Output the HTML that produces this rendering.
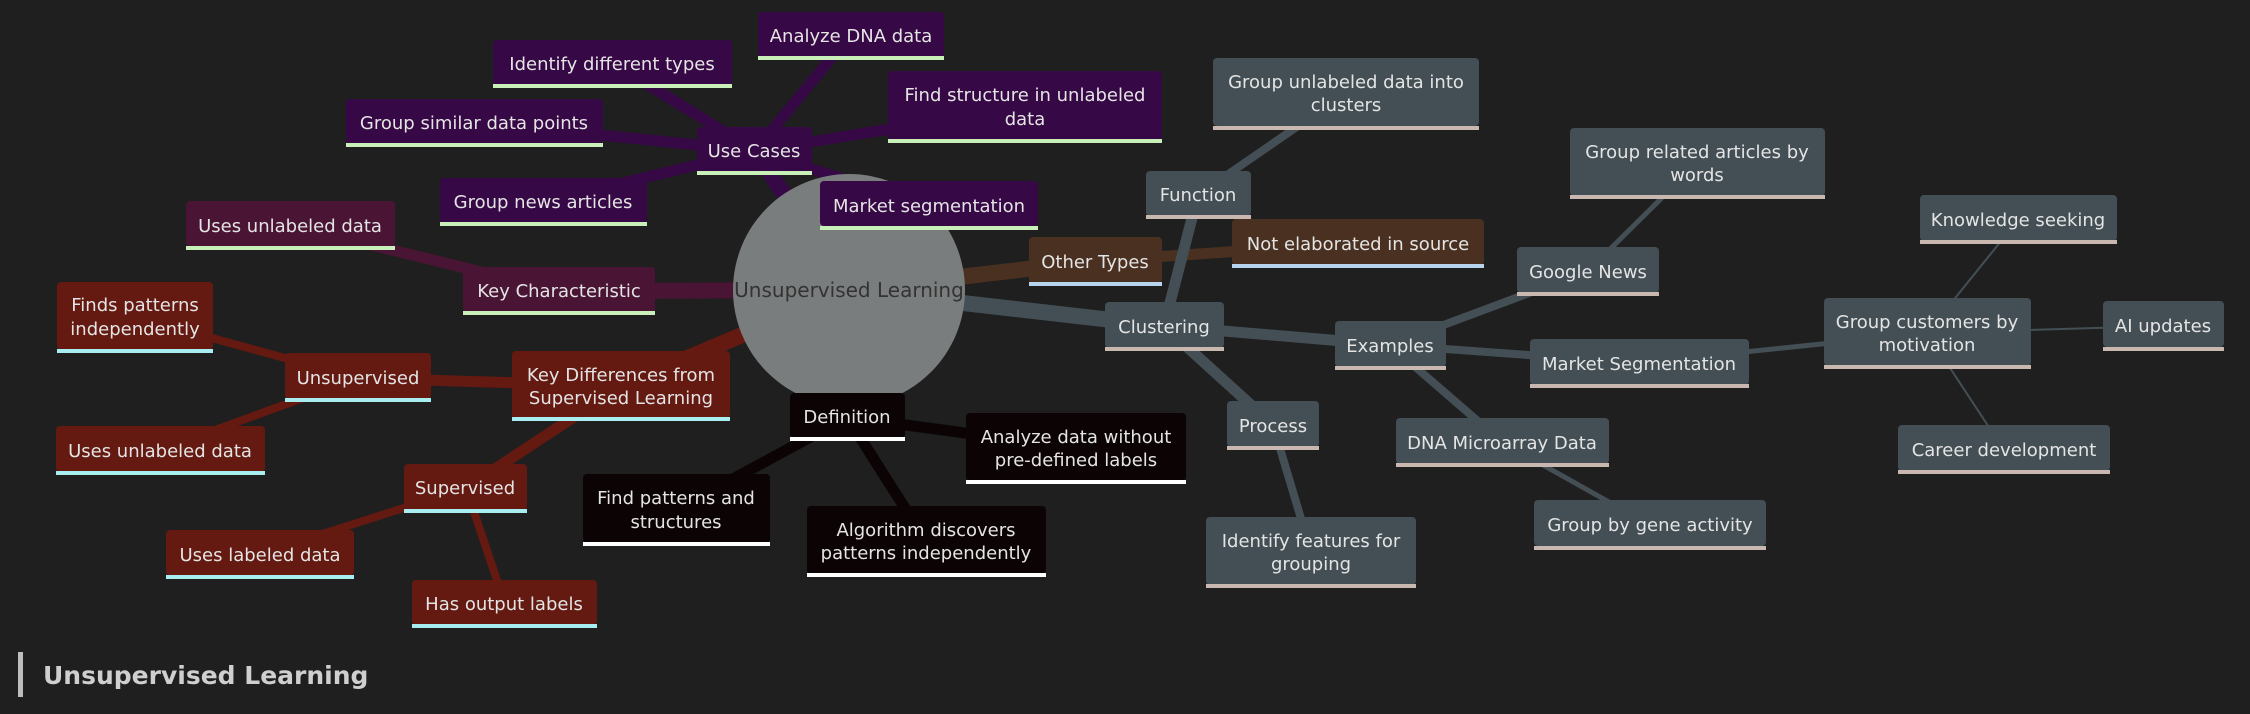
<!DOCTYPE html>
<html><head><meta charset="utf-8"><style>
html,body{margin:0;padding:0;background:#1f1f1f;}
svg{display:block;}
text{font-family:"DejaVu Sans","Liberation Sans",sans-serif;font-size:18px;fill:#e4e4e4;text-anchor:middle;}
</style></head><body>
<svg width="2250" height="714" viewBox="0 0 2250 714" xmlns="http://www.w3.org/2000/svg">
<rect width="2250" height="714" fill="#1f1f1f"/>
<g stroke-linecap="round" fill="none">
<!-- purple -->
<g stroke="#360845">
<line x1="849" y1="290" x2="755" y2="151" stroke-width="16"/>
<line x1="755" y1="151" x2="850" y2="35" stroke-width="11"/>
<line x1="755" y1="151" x2="613" y2="63" stroke-width="11"/>
<line x1="755" y1="151" x2="475" y2="122" stroke-width="11"/>
<line x1="755" y1="151" x2="1025" y2="107" stroke-width="11"/>
<line x1="755" y1="151" x2="544" y2="202" stroke-width="11"/>
<line x1="755" y1="151" x2="929" y2="206" stroke-width="11"/>
</g>
<g stroke="#4a1535">
<line x1="849" y1="290" x2="559" y2="291" stroke-width="16"/>
<line x1="559" y1="291" x2="290" y2="225" stroke-width="11"/>
</g>
<g stroke="#641911">
<line x1="849" y1="290" x2="621" y2="386" stroke-width="16"/>
<line x1="621" y1="386" x2="358" y2="378" stroke-width="11"/>
<line x1="358" y1="378" x2="135" y2="317" stroke-width="8"/>
<line x1="358" y1="378" x2="160" y2="450" stroke-width="8"/>
<line x1="621" y1="386" x2="466" y2="488" stroke-width="11"/>
<line x1="466" y1="488" x2="260" y2="554" stroke-width="8"/>
<line x1="466" y1="488" x2="505" y2="604" stroke-width="8"/>
</g>
<g stroke="#0c0404">
<line x1="849" y1="290" x2="847" y2="417" stroke-width="16"/>
<line x1="847" y1="417" x2="676" y2="510" stroke-width="11"/>
<line x1="847" y1="417" x2="926" y2="541" stroke-width="11"/>
<line x1="847" y1="417" x2="1076" y2="448" stroke-width="11"/>
</g>
<g stroke="#4a3020">
<line x1="849" y1="290" x2="1095" y2="261" stroke-width="16"/>
<line x1="1095" y1="261" x2="1358" y2="243" stroke-width="11"/>
</g>
<g stroke="#434f55">
<line x1="849" y1="290" x2="1164" y2="326" stroke-width="16"/>
<line x1="1164" y1="326" x2="1198" y2="195" stroke-width="11"/>
<line x1="1198" y1="195" x2="1346" y2="93" stroke-width="8"/>
<line x1="1164" y1="326" x2="1273" y2="425" stroke-width="11"/>
<line x1="1273" y1="425" x2="1311" y2="552" stroke-width="8"/>
<line x1="1164" y1="326" x2="1390" y2="345" stroke-width="11"/>
<line x1="1390" y1="345" x2="1588" y2="271" stroke-width="8"/>
<line x1="1588" y1="271" x2="1697" y2="163" stroke-width="5"/>
<line x1="1390" y1="345" x2="1639" y2="363" stroke-width="8"/>
<line x1="1639" y1="363" x2="1927" y2="333" stroke-width="5"/>
<line x1="1927" y1="333" x2="2018" y2="220" stroke-width="2"/>
<line x1="1927" y1="333" x2="2163" y2="326" stroke-width="2"/>
<line x1="1927" y1="333" x2="2004" y2="450" stroke-width="2"/>
<line x1="1390" y1="345" x2="1502" y2="442" stroke-width="8"/>
<line x1="1502" y1="442" x2="1650" y2="525" stroke-width="5"/>
</g>
</g>
<circle cx="849" cy="290" r="116" fill="#7a7d7d"/>
<text x="849" y="297" style="fill:#333;font-size:20px">Unsupervised Learning</text>

<!-- purple nodes -->
<g>
<rect x="758" y="12" width="186" height="45" rx="4" fill="#360845"/><rect x="758" y="56" width="186" height="4" fill="#c8f0b8"/><text x="851" y="42">Analyze DNA data</text>
<rect x="493" y="40" width="239" height="45" rx="4" fill="#360845"/><rect x="493" y="84" width="239" height="4" fill="#c8f0b8"/><text x="612" y="70">Identify different types</text>
<rect x="346" y="99" width="257" height="45" rx="4" fill="#360845"/><rect x="346" y="143" width="257" height="4" fill="#c8f0b8"/><text x="474" y="129">Group similar data points</text>
<rect x="888" y="71" width="274" height="69" rx="4" fill="#360845"/><rect x="888" y="139" width="274" height="4" fill="#c8f0b8"/><text x="1025" y="101">Find structure in unlabeled</text><text x="1025" y="125">data</text>
<rect x="697" y="127" width="115" height="45" rx="4" fill="#360845"/><rect x="697" y="171" width="115" height="4" fill="#c8f0b8"/><text x="754" y="157">Use Cases</text>
<rect x="440" y="178" width="207" height="45" rx="4" fill="#360845"/><rect x="440" y="222" width="207" height="4" fill="#c8f0b8"/><text x="543" y="208">Group news articles</text>
<rect x="820" y="181" width="218" height="45" rx="4" fill="#360845"/><rect x="820" y="226" width="218" height="4" fill="#c8f0b8"/><text x="929" y="212">Market segmentation</text>
</g>
<!-- key characteristic -->
<rect x="186" y="201" width="209" height="45" rx="4" fill="#4a1535"/><rect x="186" y="246" width="209" height="4" fill="#c8f0b8"/><text x="290" y="232">Uses unlabeled data</text>
<rect x="463" y="267" width="192" height="45" rx="4" fill="#4a1535"/><rect x="463" y="311" width="192" height="4" fill="#c8f0b8"/><text x="559" y="297">Key Characteristic</text>
<!-- red -->
<g>
<rect x="57" y="282" width="156" height="68" rx="4" fill="#641911"/><rect x="57" y="349" width="156" height="4" fill="#a8eef0"/><text x="135" y="311">Finds patterns</text><text x="135" y="335">independently</text>
<rect x="285" y="353" width="146" height="46" rx="4" fill="#641911"/><rect x="285" y="398" width="146" height="4" fill="#a8eef0"/><text x="358" y="384">Unsupervised</text>
<rect x="512" y="351" width="218" height="67" rx="4" fill="#641911"/><rect x="512" y="417" width="218" height="4" fill="#a8eef0"/><text x="621" y="381">Key Differences from</text><text x="621" y="404">Supervised Learning</text>
<rect x="56" y="426" width="209" height="46" rx="4" fill="#641911"/><rect x="56" y="471" width="209" height="4" fill="#a8eef0"/><text x="160" y="457">Uses unlabeled data</text>
<rect x="404" y="464" width="123" height="46" rx="4" fill="#641911"/><rect x="404" y="509" width="123" height="4" fill="#a8eef0"/><text x="465" y="494">Supervised</text>
<rect x="166" y="530" width="188" height="46" rx="4" fill="#641911"/><rect x="166" y="575" width="188" height="4" fill="#a8eef0"/><text x="260" y="561">Uses labeled data</text>
<rect x="412" y="580" width="185" height="45" rx="4" fill="#641911"/><rect x="412" y="624" width="185" height="4" fill="#a8eef0"/><text x="504" y="610">Has output labels</text>
</g>
<!-- black -->
<g>
<rect x="790" y="393" width="115" height="45" rx="4" fill="#0c0404"/><rect x="790" y="437" width="115" height="4" fill="#ffffff"/><text x="847" y="423">Definition</text>
<rect x="583" y="474" width="187" height="69" rx="4" fill="#0c0404"/><rect x="583" y="542" width="187" height="4" fill="#ffffff"/><text x="676" y="504">Find patterns and</text><text x="676" y="528">structures</text>
<rect x="807" y="506" width="239" height="68" rx="4" fill="#0c0404"/><rect x="807" y="573" width="239" height="4" fill="#ffffff"/><text x="926" y="536">Algorithm discovers</text><text x="926" y="559">patterns independently</text>
<rect x="966" y="413" width="220" height="68" rx="4" fill="#0c0404"/><rect x="966" y="480" width="220" height="4" fill="#ffffff"/><text x="1076" y="443">Analyze data without</text><text x="1076" y="466">pre-defined labels</text>
</g>
<!-- brown -->
<rect x="1029" y="237" width="133" height="46" rx="4" fill="#4a3020"/><rect x="1029" y="282" width="133" height="4" fill="#b8d4ec"/><text x="1095" y="268">Other Types</text>
<rect x="1232" y="219" width="252" height="46" rx="4" fill="#4a3020"/><rect x="1232" y="264" width="252" height="4" fill="#b8d4ec"/><text x="1358" y="250">Not elaborated in source</text>
<!-- slate -->
<g>
<rect x="1213" y="58" width="266" height="68" rx="4" fill="#434f55"/><rect x="1213" y="126" width="266" height="4" fill="#c8b8b0"/><text x="1346" y="88">Group unlabeled data into</text><text x="1346" y="111">clusters</text>
<rect x="1146" y="171" width="105" height="45" rx="4" fill="#434f55"/><rect x="1146" y="215" width="105" height="4" fill="#c8b8b0"/><text x="1198" y="201">Function</text>
<rect x="1105" y="302" width="119" height="46" rx="4" fill="#434f55"/><rect x="1105" y="347" width="119" height="4" fill="#c8b8b0"/><text x="1164" y="333">Clustering</text>
<rect x="1517" y="247" width="142" height="46" rx="4" fill="#434f55"/><rect x="1517" y="292" width="142" height="4" fill="#c8b8b0"/><text x="1588" y="278">Google News</text>
<rect x="1570" y="128" width="255" height="68" rx="4" fill="#434f55"/><rect x="1570" y="195" width="255" height="4" fill="#c8b8b0"/><text x="1697" y="158">Group related articles by</text><text x="1697" y="181">words</text>
<rect x="1335" y="321" width="111" height="46" rx="4" fill="#434f55"/><rect x="1335" y="366" width="111" height="4" fill="#c8b8b0"/><text x="1390" y="352">Examples</text>
<rect x="1530" y="339" width="219" height="46" rx="4" fill="#434f55"/><rect x="1530" y="384" width="219" height="4" fill="#c8b8b0"/><text x="1639" y="370">Market Segmentation</text>
<rect x="1824" y="298" width="207" height="68" rx="4" fill="#434f55"/><rect x="1824" y="365" width="207" height="4" fill="#c8b8b0"/><text x="1927" y="328">Group customers by</text><text x="1927" y="351">motivation</text>
<rect x="1920" y="195" width="197" height="46" rx="4" fill="#434f55"/><rect x="1920" y="240" width="197" height="4" fill="#c8b8b0"/><text x="2018" y="226">Knowledge seeking</text>
<rect x="2103" y="301" width="121" height="46" rx="4" fill="#434f55"/><rect x="2103" y="347" width="121" height="4" fill="#c8b8b0"/><text x="2163" y="332">AI updates</text>
<rect x="1898" y="425" width="212" height="46" rx="4" fill="#434f55"/><rect x="1898" y="470" width="212" height="4" fill="#c8b8b0"/><text x="2004" y="456">Career development</text>
<rect x="1227" y="401" width="92" height="46" rx="4" fill="#434f55"/><rect x="1227" y="446" width="92" height="4" fill="#c8b8b0"/><text x="1273" y="432">Process</text>
<rect x="1206" y="517" width="210" height="68" rx="4" fill="#434f55"/><rect x="1206" y="584" width="210" height="4" fill="#c8b8b0"/><text x="1311" y="547">Identify features for</text><text x="1311" y="570">grouping</text>
<rect x="1396" y="418" width="213" height="46" rx="4" fill="#434f55"/><rect x="1396" y="463" width="213" height="4" fill="#c8b8b0"/><text x="1502" y="449">DNA Microarray Data</text>
<rect x="1534" y="500" width="232" height="46" rx="4" fill="#434f55"/><rect x="1534" y="546" width="232" height="4" fill="#c8b8b0"/><text x="1650" y="531">Group by gene activity</text>
</g>
<!-- title -->
<rect x="18" y="652" width="5" height="45" fill="#bdbdbd"/>
<text x="43" y="684" style="text-anchor:start;font-size:25px;font-weight:bold;fill:#cfcfcf;font-family:'DejaVu Sans','Liberation Sans',sans-serif">Unsupervised Learning</text>
</svg>
</body></html>
